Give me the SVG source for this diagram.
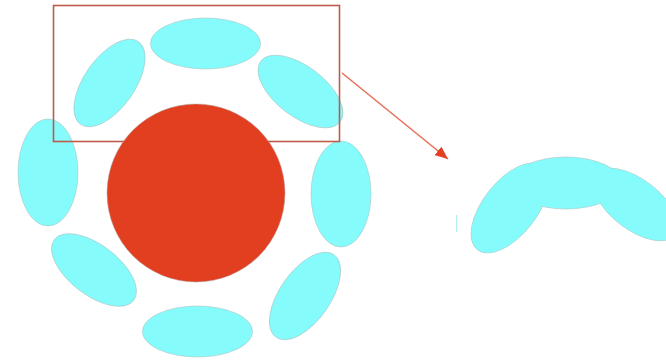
<svg xmlns="http://www.w3.org/2000/svg" width="666" height="360" viewBox="0 0 666 360">
  <style>
    .pet { fill: #86fbfb; stroke: #a9c4c4; stroke-width: 0.6; }
    .core { fill: #e23f21; stroke: #b0a0a0; stroke-width: 0.5; }
    .frame { fill: none; stroke: #bd5a4c; stroke-width: 1.6; }
    .conn { fill: none; stroke: #e8705e; stroke-width: 1.6; }
  </style>
  <defs>
    <marker id="ah" viewBox="0 0 13 11" refX="13" refY="5.5" markerWidth="13" markerHeight="11" markerUnits="userSpaceOnUse" orient="auto">
      <path d="M0,0 L13,5.5 L0,11 z" fill="#e34021"/>
    </marker>
  </defs>
  <rect width="666" height="360" fill="#ffffff"/>

  <g id="petals">
    <ellipse id="p-top" class="pet" cx="205.5" cy="43.5" rx="55" ry="25.5"/>
    <ellipse id="p-bottom" class="pet" cx="197.5" cy="331.5" rx="55" ry="25.5"/>
    <ellipse id="p-left" class="pet" cx="48" cy="172.5" rx="30" ry="53.5"/>
    <ellipse id="p-right" class="pet" cx="341" cy="194" rx="30" ry="53"/>
    <ellipse id="p-ul" class="pet" cx="109.5" cy="83" rx="50.5" ry="25.3" transform="rotate(-55 109.5 83)"/>
    <ellipse id="p-ur" class="pet" cx="300.5" cy="91.5" rx="50" ry="25" transform="rotate(37.5 300.5 91.5)"/>
    <ellipse id="p-ll" class="pet" cx="94" cy="270" rx="50" ry="25" transform="rotate(37.5 94 270)"/>
    <ellipse id="p-lr" class="pet" cx="305" cy="296" rx="50.5" ry="25.3" transform="rotate(-55 305 296)"/>
  </g>

  <g id="zoom-frame">
    <rect class="frame" x="53.5" y="5.5" width="286" height="136"/>
  </g>

  <g id="core">
    <circle class="core" cx="196" cy="193" r="89"/>
  </g>

  <g id="connectors">
    <line class="conn" x1="342" y1="73" x2="448" y2="159" marker-end="url(#ah)"/>
  </g>

  <g id="zoom-view">
    <rect x="456" y="215" width="1.2" height="17" fill="#b8ecec"/>
    <ellipse class="pet" cx="510" cy="208" rx="53" ry="27" transform="rotate(-52 510 208)"/>
    <ellipse class="pet" cx="635.5" cy="204.5" rx="50" ry="25" transform="rotate(37.5 635.5 204.5)"/>
    <ellipse class="pet" cx="566" cy="183" rx="55" ry="26"/>
    <ellipse cx="510" cy="208" rx="52.5" ry="26.5" fill="#86fbfb" transform="rotate(-52 510 208)"/>
    <ellipse cx="635.5" cy="204.5" rx="49.5" ry="24.5" fill="#86fbfb" transform="rotate(37.5 635.5 204.5)"/>
  </g>
</svg>
